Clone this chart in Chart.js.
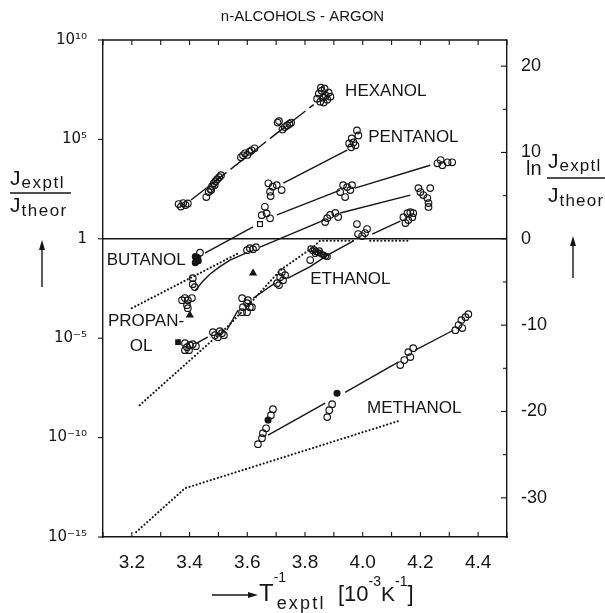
<!DOCTYPE html>
<html><head><meta charset="utf-8">
<script src="https://cdn.jsdelivr.net/npm/chart.js@4.4.1/dist/chart.umd.min.js"></script>
<style>html,body{margin:0;padding:0;background:#fff}</style>
</head><body>
<canvas id="c" width="605" height="613"></canvas>
<script>
// x: T_exptl^-1 [10^-3 K^-1];  y values stored as log10(J_exptl/J_theor)
const xTicks = [3.2, 3.4, 3.6, 3.8, 4.0, 4.2, 4.4];
const yLeftTicks = [-15, -10, -5, 0, 5, 10];          // exponents of 10
const yRightTicks = [-30, -20, -10, 0, 10, 20];        // ln(J_exptl/J_theor)

const hexanolData = [
 [3.362,1.75],[3.370,1.62],[3.378,1.80],[3.386,1.70],[3.394,1.78],
 [3.458,2.10],[3.466,2.35],[3.472,2.50],[3.478,2.65],[3.484,2.80],[3.490,2.90],[3.496,3.00],[3.503,3.10],[3.509,3.20],[3.475,2.45],[3.487,2.70],
 [3.578,4.10],[3.585,4.20],[3.592,4.30],[3.600,4.22],[3.608,4.38],[3.615,4.45],[3.625,4.55],
 [3.705,5.85],[3.710,5.92],[3.722,5.50],[3.730,5.62],[3.738,5.70],[3.746,5.78],[3.752,5.85],
 [3.842,7.05],[3.848,7.30],[3.853,6.90],[3.858,7.45],[3.862,7.10],[3.868,7.55],[3.872,7.20],[3.877,7.00],[3.882,7.35],[3.888,7.15],[3.855,7.60],[3.865,6.85]
];
const hexanolFit = [[[3.405,1.95],[3.830,6.75]]];

const pentanolData = [
 [3.673,2.79],[3.679,2.37],[3.688,2.62],[3.702,2.70],[3.719,2.45],[3.681,2.15],
 [3.953,4.80],[3.960,4.60],[3.968,4.85],[3.962,5.05],[3.980,5.45],[3.985,5.20],[3.975,4.70]
];
const pentanolFit = [[[3.725,2.80],[3.946,4.46]]];

const butanolData = [
 [3.436,-0.70],
 [3.661,1.61],[3.650,1.19],[3.667,1.28],[3.679,1.03],
 [3.922,2.35],[3.932,2.70],[3.946,2.60],[3.957,2.45],[3.939,2.10],[3.963,2.70],
 [4.259,3.80],[4.276,3.70],[4.294,3.85],[4.310,3.85],[4.270,3.96]
];
const butanolFilled = [[3.420,-0.90],[3.425,-1.05],[3.420,-1.20],[3.430,-1.10],[3.428,-0.95]];
const butanolSquare = [[3.644,0.74]];
const butanolFit = [[[3.453,-0.72],[3.620,0.60]],[[3.703,1.20],[3.922,2.45]],[[3.973,2.55],[4.234,3.70]]];

const propanolData = [
 [3.374,-3.09],[3.384,-2.98],[3.394,-3.09],[3.408,-2.98],[3.391,-3.34],[3.394,-3.49],[3.411,-2.28],[3.418,-2.43],[3.411,-1.98],
 [3.599,-0.57],[3.609,-0.47],[3.620,-0.52],[3.630,-0.42],
 [3.877,1.04],[3.887,1.20],[3.905,1.30],[3.915,1.10],[3.870,0.84],
 [4.193,2.55],[4.200,2.35],[4.210,2.20],[4.224,2.05],[4.228,1.80],[4.234,2.55],[4.228,1.60]
];
const triangleData = [[3.401,-3.84],[3.620,-1.73]];
const propanolFit = [[[3.418,-2.63],[3.445,-2.15],[3.470,-1.78],[3.505,-1.40],[3.540,-1.07],[3.599,-0.70]],[[3.644,-0.42],[3.868,0.95]],[[3.922,1.30],[4.165,2.20]]];

const ethanolData = [
 [3.384,-5.25],[3.391,-5.45],[3.401,-5.35],[3.411,-5.30],[3.422,-5.40],[3.384,-5.60],[3.398,-5.60],
 [3.481,-4.70],[3.488,-4.85],[3.498,-4.95],[3.512,-4.75],[3.519,-4.85],[3.505,-4.65],
 [3.582,-2.99],[3.585,-3.44],[3.599,-3.24],[3.609,-3.44],[3.602,-3.09],[3.582,-3.69],[3.599,-3.69],[3.616,-3.44],
 [3.703,-2.23],[3.714,-1.93],[3.724,-2.08],[3.731,-1.83],[3.710,-2.33],[3.720,-1.68],
 [3.818,-1.07],
 [3.980,0.74],[3.984,0.24],[3.998,0.14],[4.008,0.29],[4.015,0.49],
 [4.141,1.09],[4.155,1.29],[4.165,1.34],[4.175,1.29],[4.148,0.79],[4.158,0.94],[4.172,1.09]
];
const ethanolSquare = [[3.360,-5.20]];
const ethanolDense = [[3.820,-0.50],[3.826,-0.60],[3.832,-0.55],[3.838,-0.65],[3.845,-0.70],[3.852,-0.72],[3.858,-0.78],[3.865,-0.82],[3.872,-0.88],[3.878,-0.90],[3.835,-0.75],[3.850,-0.60]];
const ethanolFit = [[[3.425,-5.25],[3.463,-4.95]],[[3.529,-4.60],[3.568,-3.59]],[[3.620,-2.99],[3.696,-2.23]],[[3.741,-1.98],[3.818,-1.40],[3.881,-0.80],[3.967,-0.12]],[[4.033,0.24],[4.130,0.89]]];

const methanolData = [
 [3.637,-10.33],[3.651,-10.03],[3.654,-9.78],[3.665,-9.53],[3.682,-8.87],[3.689,-8.57],
 [3.877,-8.97],[3.884,-8.62],[3.894,-8.32],
 [4.130,-6.35],[4.144,-6.10],[4.158,-5.70],[4.175,-5.50],[4.165,-5.95],
 [4.321,-4.60],[4.332,-4.34],[4.342,-4.09],[4.356,-3.94],[4.366,-3.79],[4.345,-4.49]
];
const methanolFilled = [[3.672,-9.12],[3.911,-7.77]];
const methanolFit = [[[3.672,-9.88],[3.870,-8.27]],[[3.939,-7.72],[4.123,-6.20]],[[4.182,-5.60],[4.314,-4.60]]];

const dottedEthanol = [[[3.227,-8.37],[3.530,-4.44],[3.620,-3.09],[3.714,-1.58],[3.828,-0.42],[3.852,-0.10],[3.967,-0.10]],[[4.026,-0.10],[4.165,-0.10]]];
const dottedButanol = [[[3.200,-3.49],[3.570,-0.72]]];
const dottedMethanol = [[[3.215,-14.75],[3.384,-12.55],[4.123,-9.17]]];
const unityLine = [[[3.1,0],[4.5,0]]];

const labelTexts = ["HEXANOL","PENTANOL","BUTANOL","PROPAN-","OL","ETHANOL","METHANOL"];

const FONT = '"Liberation Sans", "DejaVu Sans", Arial, sans-serif';
const INK = '#151515';
const pw = e => Math.pow(10, e);
const pts = arr => arr.map(p => ({x: p[0], y: pw(p[1])}));

const datasets = [];
function addLines(segs, style){
  segs.forEach(s => datasets.push(Object.assign({
    data: pts(s), showLine: true, pointRadius: 0, borderColor: INK, borderWidth: 1.4,
    fill: false, tension: 0
  }, style)));
}
function addPoints(arr, style){
  datasets.push(Object.assign({
    data: pts(arr), showLine: false, pointRadius: 3.3, pointBorderWidth: 1.15,
    borderColor: INK, backgroundColor: 'rgba(0,0,0,0)', pointStyle: 'circle'
  }, style));
}
const dotted = {borderDash: [0.1, 3.6], borderCapStyle: 'round', borderWidth: 2.1};
addLines(unityLine, {borderWidth: 1.5});
addLines(dottedEthanol, dotted);
addLines(dottedButanol, dotted);
addLines(dottedMethanol, dotted);
addLines(hexanolFit, {borderDash: [20, 5]});
addLines(pentanolFit, {});
addLines(butanolFit, {});
addLines(propanolFit, {});
addLines(ethanolFit, {});
addLines(methanolFit, {});
addPoints(hexanolData, {});
addPoints(pentanolData, {});
addPoints(butanolData, {});
addPoints(propanolData, {});
addPoints(ethanolData, {});
addPoints(ethanolDense, {pointRadius: 2.8});
addPoints(methanolData, {});
addPoints(butanolFilled, {backgroundColor: INK, pointRadius: 3.0});
addPoints(methanolFilled, {backgroundColor: INK, pointRadius: 3.0});
addPoints(triangleData, {backgroundColor: INK, pointStyle: 'triangle', pointRadius: 3.6});
addPoints(ethanolSquare, {backgroundColor: INK, pointStyle: 'rect', pointRadius: 3.2});
addPoints(butanolSquare, {pointStyle: 'rect', pointRadius: 3.4});

const supMap = {'-':'\u207B','0':'\u2070','1':'\u00B9','2':'\u00B2','3':'\u00B3','4':'\u2074','5':'\u2075','6':'\u2076','7':'\u2077','8':'\u2078','9':'\u2079'};
const sup = s => String(s).split('').map(c => supMap[c] || c).join('');

const labelPos = [[3.939,7.43],[4.019,5.12],[3.113,-1.07],[3.117,-4.14],[3.193,-5.40],[3.818,-2.03],[4.015,-8.52]];

function txt(ctx, s, x, y, size, spacing){
  ctx.font = size + 'px ' + FONT;
  ctx.letterSpacing = (spacing || 0) + 'px';
  ctx.fillText(s, x, y);
  const w = ctx.measureText(s).width;
  ctx.letterSpacing = '0px';
  return x + w;
}
function seg(ctx, x1, y1, x2, y2){ ctx.beginPath(); ctx.moveTo(x1, y1); ctx.lineTo(x2, y2); ctx.stroke(); }
function tri(ctx, a, b, c){ ctx.beginPath(); ctx.moveTo(a[0],a[1]); ctx.lineTo(b[0],b[1]); ctx.lineTo(c[0],c[1]); ctx.closePath(); ctx.fill(); }

const annot = {
  id: 'annot',
  afterDraw(chart){
    const {ctx, chartArea: a} = chart;
    const x = chart.scales.x, y = chart.scales.y, y2 = chart.scales.y2;
    ctx.save();
    ctx.strokeStyle = INK; ctx.fillStyle = INK; ctx.lineWidth = 1.4;
    seg(ctx, a.left, a.top, a.right, a.top);
    ctx.lineWidth = 1.1;
    for (let i = 31; i <= 45; i++){
      const px = x.getPixelForValue(i / 10);
      seg(ctx, px, a.bottom, px, a.bottom - 5);
      seg(ctx, px, a.top, px, a.top + 5);
    }
    yLeftTicks.forEach(e => { const py = y.getPixelForValue(pw(e)); seg(ctx, a.left - 5, py, a.left, py); });
    for (let v = -30; v <= 20; v += 5){
      const py = y2.getPixelForValue(v);
      seg(ctx, a.right - (v % 10 === 0 ? 6 : 4), py, a.right, py);
    }
    // in-plot labels
    ctx.textAlign = 'left'; ctx.textBaseline = 'middle';
    ctx.font = '17px ' + FONT;
    labelTexts.forEach((t, i) => {
      ctx.fillText(t, x.getPixelForValue(labelPos[i][0]), y.getPixelForValue(pw(labelPos[i][1])));
    });
    ctx.textBaseline = 'alphabetic';
    // left axis title
    let cx = txt(ctx, 'J', 10, 185, 21);
    txt(ctx, 'exptl', cx + 1, 188, 17, 1.5);
    ctx.lineWidth = 1.5; seg(ctx, 10, 193, 71, 193);
    cx = txt(ctx, 'J', 10, 212, 21);
    txt(ctx, 'theor', cx + 1, 216, 17, 1.5);
    ctx.lineWidth = 1.4; seg(ctx, 42, 287, 42, 248);
    tri(ctx, [42, 240], [39, 250], [45, 250]);
    // right axis title
    txt(ctx, 'ln', 526, 175, 20);
    cx = txt(ctx, 'J', 548, 168, 21);
    txt(ctx, 'exptl', cx + 1, 171, 17, 1.2);
    ctx.lineWidth = 1.5; seg(ctx, 547, 178, 605, 178);
    cx = txt(ctx, 'J', 548, 202, 21);
    txt(ctx, 'theor', cx + 1, 206, 17, 1.2);
    ctx.lineWidth = 1.4; seg(ctx, 573, 278, 573, 244);
    tri(ctx, [573, 236], [570, 246], [576, 246]);
    // x axis title
    seg(ctx, 212, 595, 250, 595);
    tri(ctx, [258, 595], [248, 592], [248, 598]);
    cx = txt(ctx, 'T', 259, 601, 24);
    txt(ctx, '-1', cx, 582, 14);
    txt(ctx, 'exptl', cx + 3, 609, 18, 2.2);
    cx = txt(ctx, '[10', 338, 601, 22);
    cx = txt(ctx, '-3', cx, 586, 14);
    cx = txt(ctx, 'K', cx, 601, 21);
    cx = txt(ctx, '-1', cx, 586, 14);
    txt(ctx, ']', cx, 601, 22);
    ctx.restore();
  }
};

new Chart(document.getElementById('c'), {
  type: 'scatter',
  data: {datasets},
  options: {
    responsive: false, animation: false, devicePixelRatio: 1,
    layout: {padding: 0},
    plugins: {
      legend: {display: false}, tooltip: {enabled: false},
      title: {display: true, text: 'n-ALCOHOLS - ARGON', color: INK,
        font: {family: FONT, size: 15, weight: 'normal'}, padding: {top: 8, bottom: 14}}
    },
    scales: {
      x: {type: 'linear', position: 'bottom', min: 3.1, max: 4.5,
        afterBuildTicks: s => { s.ticks = xTicks.map(v => ({value: v})); },
        afterFit: s => { s.height = 76; },
        ticks: {callback: v => Number(v).toFixed(1), color: INK, font: {family: FONT, size: 19}, padding: 6, maxRotation: 0, autoSkip: false},
        grid: {display: false}, border: {display: true, color: INK, width: 1.4}},
      y: {type: 'logarithmic', position: 'left', min: 1e-15, max: 1e10,
        afterBuildTicks: s => { s.ticks = yLeftTicks.map(e => ({value: pw(e)})); },
        afterFit: s => { s.width = 103; },
        ticks: {callback: v => { const e = Math.round(Math.log10(v)); return e === 0 ? '1' : '10' + sup(e); },
          color: INK, font: {family: '"DejaVu Sans", sans-serif', size: 15}, padding: 8, autoSkip: false},
        grid: {display: false}, border: {display: true, color: INK, width: 1.4}},
      y2: {type: 'linear', position: 'right', min: -15 * Math.LN10, max: 10 * Math.LN10,
        afterBuildTicks: s => { s.ticks = yRightTicks.map(v => ({value: v})); },
        afterFit: s => { s.width = 98; },
        ticks: {callback: v => String(v), color: INK, font: {family: FONT, size: 18}, padding: 6, autoSkip: false},
        grid: {display: false}, border: {display: true, color: INK, width: 1.4}}
    }
  },
  plugins: [annot]
});
</script>
</body></html>
